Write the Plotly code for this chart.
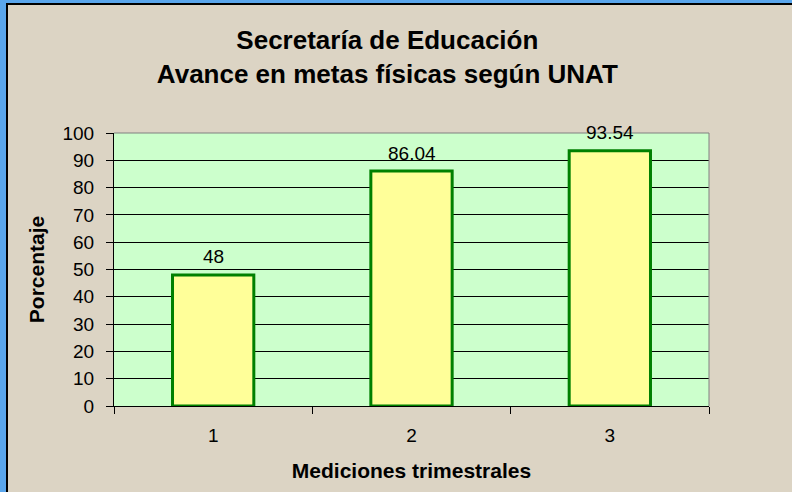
import plotly.graph_objects as go

categories = ["1", "2", "3"]
values = [48, 86.04, 93.54]
value_labels = ["48", "86.04", "93.54"]
y_ticks = list(range(0, 101, 10))

L, R, T, B = 114, 83, 133, 86
W, H = 792, 492
pw, ph = W - L - R, H - T - B

def px(x):
    return (x - L) / pw

def py(y):
    return (H - B - y) / ph

FONT = "Liberation Sans, Arial"

fig = go.Figure()
fig.add_trace(go.Bar(
    x=categories, y=values,
    marker=dict(color="#FFFF99", line=dict(color="#008000", width=3)),
    width=0.41, hoverinfo="skip",
))
for i, (v, t) in enumerate(zip(values, value_labels)):
    fig.add_annotation(x=i, y=v, text=t, showarrow=False, yanchor="middle",
                       yshift=18, font=dict(family=FONT, size=19, color="black"))

fig.update_layout(
    width=W, height=H,
    margin=dict(l=L, r=R, t=T, b=B),
    paper_bgcolor="#5AA6EC",
    plot_bgcolor="#CCFFCC",
    font=dict(family=FONT, color="black"),
    showlegend=False,
    title=dict(
        text="<b>Secretaría de Educación<br>Avance en metas físicas según UNAT</b>",
        x=px(405), xanchor="center", y=1 - 49 / H, yanchor="middle",
        font=dict(size=26, color="black"),
    ),
    shapes=[
        dict(type="rect", xref="paper", yref="paper", layer="below",
             x0=px(7), x1=px(800), y0=py(500), y1=py(4),
             fillcolor="#DCD4C4", line=dict(color="black", width=2)),
        dict(type="rect", xref="paper", yref="paper", layer="below",
             x0=0, x1=1, y0=0, y1=1,
             fillcolor="#CCFFCC", line=dict(width=0)),
    ],
)
fig.update_xaxes(
    type="category", tickson="boundaries", ticks="outside", ticklen=7,
    tickcolor="black", showline=True, linecolor="black", linewidth=1,
    mirror=False, showgrid=False, ticklabelstandoff=12,
    tickfont=dict(size=19),
    title=dict(text="<b>Mediciones trimestrales</b>", font=dict(size=21), standoff=18),
)
fig.update_yaxes(
    range=[0, 100], tickvals=y_ticks, ticks="outside", ticklen=7,
    tickcolor="black", showline=True, linecolor="black", linewidth=1,
    showgrid=True, gridcolor="black", gridwidth=1, zeroline=False,
    ticklabelstandoff=8,
    tickfont=dict(size=19),
    title=dict(text="<b>Porcentaje</b>", font=dict(size=21), standoff=12),
)
fig.add_shape(type="line", xref="paper", yref="paper", x0=0, x1=1, y0=1, y1=1,
              line=dict(color="#808080", width=1))
fig.add_shape(type="line", xref="paper", yref="paper", x0=1, x1=1, y0=0, y1=1,
              line=dict(color="#808080", width=1))

fig.write_html("out.html", config={"displayModeBar": False},
               post_script="document.body.style.margin='0';")
